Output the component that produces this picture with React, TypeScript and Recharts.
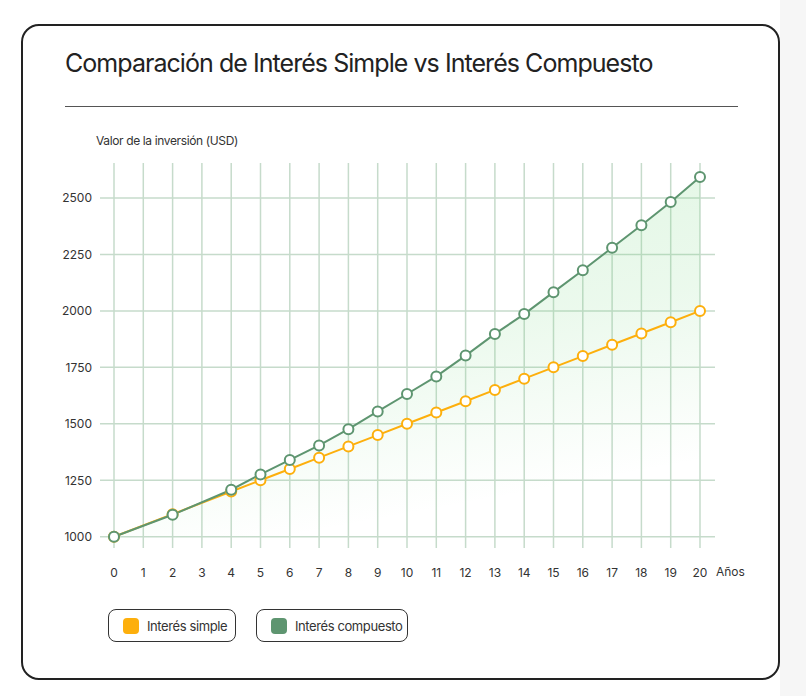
import React from 'react';
import { ComposedChart, Line, Area, XAxis, YAxis, CartesianGrid } from 'recharts';

const years = ['0','1','2','3','4','5','6','7','8','9','10','11','12','13','14','15','16','17','18','19','20'];
const simpleValues = [1000, null, 1100, null, 1200, 1250, 1300, 1350, 1400, 1450, 1500, 1550, 1600, 1650, 1700, 1750, 1800, 1850, 1900, 1950, 2000];
const compoundValues = [1000, null, 1097, null, 1208, 1276, 1340, 1404, 1476, 1555, 1632, 1710, 1802, 1898, 1986, 2083, 2180, 2280, 2379, 2482, 2593];
const yTicks = [1000, 1250, 1500, 1750, 2000, 2250, 2500];

const ORANGE = '#FDAF0C';
const GREEN = '#5E9570';
const GRID = '#c6dbcb';
const FONT = 'Inter, "Noto Sans", sans-serif';

const data = years.map((y, i) => ({ year: y, simple: simpleValues[i], compound: compoundValues[i] }));

function LegendItem({ left, width, color, text }:{left:number, width:number, color:string, text:string}) {
  return (
    <div style={{
      position: 'absolute', left, top: 609, width, height: 33, boxSizing: 'border-box',
      border: '1.5px solid #333', borderRadius: 8, display: 'flex', alignItems: 'center', paddingLeft: 14,
    }}>
      <div style={{ width: 16, height: 16, borderRadius: 4, background: color, flexShrink: 0 }} />
      <span style={{ marginLeft: 8, fontSize: 13, color: '#333', whiteSpace: 'nowrap', letterSpacing: -0.4 }}>{text}</span>
    </div>
  );
}

export default function App() {
  return (
    <div style={{ position: 'absolute', left: 0, top: 0, width: 806, height: 696, background: '#fff', fontFamily: FONT, overflow: 'hidden' }}>
      <div style={{ position: 'absolute', left: 780, top: 0, width: 26, height: 696, background: '#f6f6f6' }} />
      <div style={{
        position: 'absolute', left: 21, top: 24, width: 759, height: 656, boxSizing: 'border-box',
        border: '2px solid #222', borderRadius: 18, background: '#fff',
      }} />
      <div style={{ position: 'absolute', left: 65, top: 48, fontSize: 25, color: '#222', whiteSpace: 'nowrap', letterSpacing: -0.95 }}>
        Comparación de Interés Simple vs Interés Compuesto
      </div>
      <div style={{ position: 'absolute', left: 65, top: 106, width: 673, height: 1, background: '#555' }} />
      <div style={{ position: 'absolute', left: 96, top: 133, fontSize: 12, color: '#333', whiteSpace: 'nowrap', letterSpacing: -0.37 }}>
        Valor de la inversión (USD)
      </div>
      <div style={{ position: 'absolute', left: 0, top: 0 }}>
        <ComposedChart width={806} height={696} data={data} margin={{ top: 163, right: 91, bottom: 100, left: 40 }}>
          <defs>
            <linearGradient id="compFill" x1="0" y1="0" x2="0.3" y2="1">
              <stop offset="0%" stopColor="#74d67f" stopOpacity={0.38} />
              <stop offset="55%" stopColor="#74d67f" stopOpacity={0.24} />
              <stop offset="100%" stopColor="#74d67f" stopOpacity={0} />
            </linearGradient>
          </defs>
          <CartesianGrid stroke={GRID} strokeWidth={1.5} syncWithTicks />
          <XAxis
            dataKey="year"
            padding={{ left: 14, right: 15 }}
            axisLine={false}
            tickLine={false}
            interval={0}
            height={48}
            tickMargin={14}
            tick={{ fontSize: 12, fill: '#333', fontFamily: FONT }}
            label={{ value: 'Años', position: 'right', offset: 1, fontSize: 12, fill: '#333', fontFamily: FONT }}
          />
          <YAxis
            domain={[950, 2655]}
            ticks={yTicks}
            width={60}
            axisLine={false}
            tickLine={false}
            tick={{ fontSize: 12, fill: '#333', fontFamily: FONT }}
          />
          <Area
            type="linear"
            dataKey="compound"
            baseValue={1000}
            stroke="none"
            fill="url(#compFill)"
            connectNulls
            dot={false}
            activeDot={false}
            isAnimationActive={false}
          />
          <Line
            type="linear"
            dataKey="simple"
            stroke={ORANGE}
            strokeWidth={2}
            connectNulls
            dot={{ r: 5, fill: '#fff', stroke: ORANGE, strokeWidth: 2 }}
            activeDot={false}
            isAnimationActive={false}
          />
          <Line
            type="linear"
            dataKey="compound"
            stroke={GREEN}
            strokeWidth={2}
            connectNulls
            dot={{ r: 5, fill: '#fff', stroke: GREEN, strokeWidth: 2 }}
            activeDot={false}
            isAnimationActive={false}
          />
        </ComposedChart>
      </div>
      <LegendItem left={108} width={128} color={ORANGE} text="Interés simple" />
      <LegendItem left={256} width={152} color={GREEN} text="Interés compuesto" />
    </div>
  );
}
